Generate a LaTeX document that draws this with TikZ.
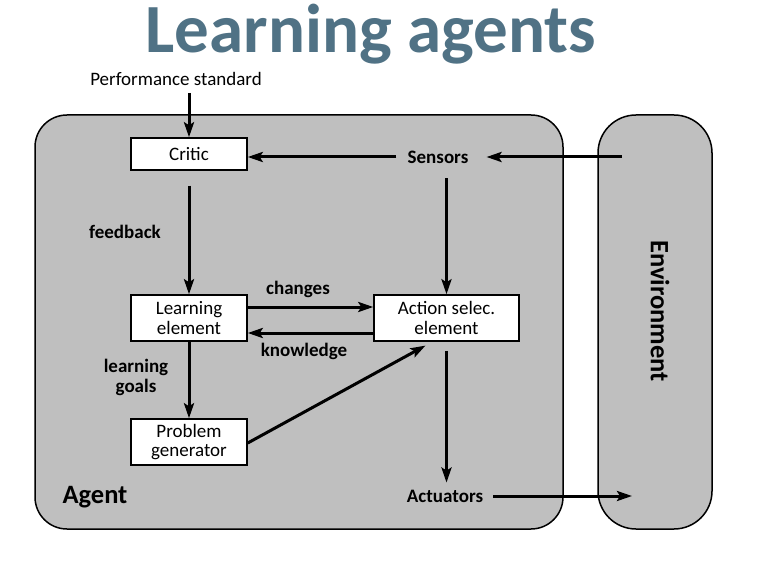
\documentclass[tikz,border=0pt]{standalone}
\usepackage{fontspec}
\setmainfont{Carlito}
\usetikzlibrary{arrows.meta}
\definecolor{titleblue}{RGB}{80,114,133}
\definecolor{boxgray}{RGB}{191,191,191}
\begin{document}
\begin{tikzpicture}[x=1pt,y=-1pt,
  box/.style={draw=black,line width=1.5pt,fill=white,inner sep=0pt,align=center,
    font=\fontsize{19}{19.5}\selectfont},
  lbl/.style={inner sep=0pt,align=center,font=\fontsize{19}{20}\selectfont\bfseries},
  arr/.style={line width=3pt,-{Stealth[length=15pt,width=10pt,inset=3pt]}},
  panel/.style={draw=black,line width=1.5pt,fill=boxgray}]
\useasboundingbox[fill=white] (0,0) rectangle (767,561);
% title
\node[anchor=base,inner sep=0pt,text height=46pt,text depth=14pt,text=titleblue,font=\fontsize{69}{70}\selectfont\bfseries] (title) at (371,53) {Learning agents};
% panels
\draw[panel,rounded corners=32pt] (35,115) rectangle (563,529);
\draw[panel,rounded corners=38pt] (598,115) rectangle (712,529);
% nodes
\node[box,minimum width=116pt,minimum height=32pt] (critic) at (189,154) {Critic};
\node[box,minimum width=116pt,minimum height=46pt] (learn) at (189,318) {Learning\\element};
\node[box,minimum width=145pt,minimum height=46pt] (action) at (446.5,318) {Action selec.\\element};
\node[box,minimum width=116pt,minimum height=46pt] (problem) at (189,442) {Problem\\generator};
\node[inner sep=0pt,font=\fontsize{19}{20}\selectfont] (perf) at (176,79) {Performance standard};
\node[lbl] (sensors) at (438,157) {Sensors};
\node[lbl] (actuators) at (445,496) {Actuators};
\node[lbl] (feedback) at (125,232) {feedback};
\node[lbl] (changes) at (298,289) {changes};
\node[lbl] (knowledge) at (304,351) {knowledge};
\node[lbl] (goals) at (136,377) {learning\\goals};
\node[inner sep=0pt,font=\fontsize{26.5}{28}\selectfont\bfseries] (agent) at (95,497) {Agent};
\node[inner sep=0pt,rotate=-90,font=\fontsize{26.5}{28}\selectfont\bfseries] (env) at (660,311) {Environment};
\coordinate (envout) at (622,157);
\coordinate (envin) at (632,496);
% connectors
\draw[arr,shorten <=7pt] (perf.south -| critic.north) -- (critic.north);
\draw[arr,shorten <=11pt] (sensors.west) -- (sensors.west -| critic.east);
\draw[arr,shorten >=18pt] (envout) -- (sensors.east);
\draw[arr,shorten <=15pt] (critic.south) -- (learn.north);
\draw[arr,shorten <=15pt] (sensors.south -| action.north) -- (action.north);
\draw[arr] ([yshift=11pt]learn.east) -- ([yshift=11pt]action.west);
\draw[arr] ([yshift=-15pt]action.west) -- ([yshift=-15pt]learn.east);
\draw[arr] (learn.south) -- (problem.north);
\draw[arr,shorten >=8pt] ([yshift=-1pt]problem.east) -- ([xshift=-14pt]action.south);
\draw[arr,shorten <=9pt,shorten >=7pt] (action.south) -- (actuators.north -| action.south);
\draw[arr,shorten <=10pt] (actuators.east) -- (envin);
\end{tikzpicture}
\end{document}
